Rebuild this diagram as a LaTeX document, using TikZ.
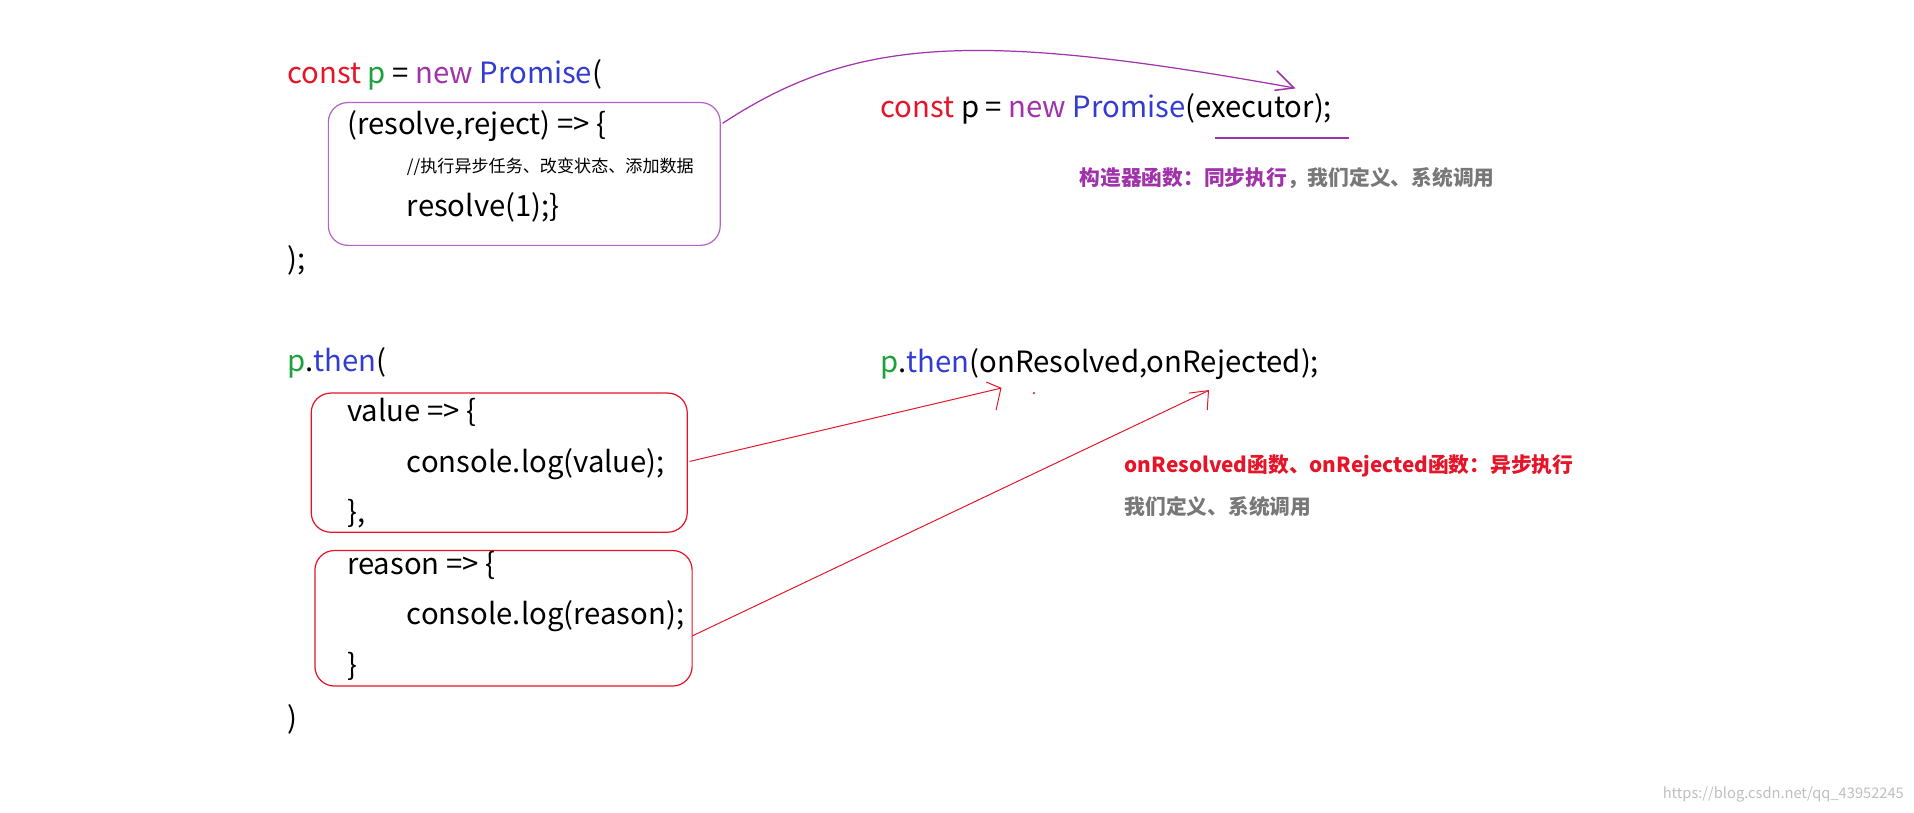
\documentclass[tikz,border=0pt]{standalone}
\usepackage{fontspec}
\setmainfont{Noto Sans CJK SC}
\usetikzlibrary{arrows.meta}
\definecolor{cred}{RGB}{230,20,40}
\definecolor{cgreen}{RGB}{30,160,60}
\definecolor{cpurple}{RGB}{160,50,170}
\definecolor{cblue}{RGB}{50,60,210}
\definecolor{cgray}{RGB}{120,120,120}
\definecolor{bpurple}{RGB}{180,100,200}
\begin{document}
\begin{tikzpicture}[x=0.5pt,y=-0.5pt,
  code/.style={anchor=west,inner sep=0pt,font=\fontsize{12}{14}\selectfont},
  note/.style={anchor=west,inner sep=0pt,font=\fontsize{8.5}{10}\selectfont\bfseries},
  pbox/.style={draw=bpurple,rounded corners=8pt,line width=0.5pt},
  rbox/.style={draw=cred,rounded corners=8pt,line width=0.5pt},
  rline/.style={draw=cred,line width=0.4pt}]
\useasboundingbox[fill=white] (0,0) rectangle (1568,666);
\node[code] (t1) at (235,61) {\textcolor{cred}{const} \textcolor{cgreen}{p} = \textcolor{cpurple}{new} \textcolor{cblue}{Promise}(};
\draw[pbox] (269,84) rectangle (590,201);
\node[code] (t2) at (284,103) {(resolve,reject) => \{};
\node[code,font=\fontsize{7}{8}\selectfont] (t3) at (333,137) {//执行异步任务、改变状态、添加数据};
\node[code] (t4) at (333,170) {resolve(1);\}};
\node[code] (t5) at (235,213) {);};
\node[code] (e1) at (721,89) {\textcolor{cred}{const} p = \textcolor{cpurple}{new} \textcolor{cblue}{Promise}(executor);};
\draw[cpurple,line width=0.5pt] (995,113) -- (1105,113);
\coordinate (pa) at (592,101);
\coordinate (pb) at (1060,72);
\draw[cpurple,line width=0.5pt] (pa) .. controls (700,30) and (800,25) .. (pb);
\draw[cpurple,line width=0.6pt] (1046,58) -- (pb) -- (1044,74);
\node[note] (n1) at (884,146) {\textcolor{cpurple}{构造器函数：同步执行}\textcolor{cgray}{，我们定义、系统调用}};
\node[code] (t6) at (235,297) {\textcolor{cgreen}{p}.\textcolor{cblue}{then}(};
\node[code] (e2) at (721,298) {\textcolor{cgreen}{p}.\textcolor{cblue}{then}(onResolved,onRejected);};
\draw[rbox] (255,322) rectangle (563,436);
\node[code] (v1) at (284,338) {value => \{};
\node[code] (v2) at (333,380) {console.log(value);};
\node[code] (v3) at (284,421) {\},};
\draw[rbox] (258,451) rectangle (567,562);
\node[code] (r1) at (284,463) {reason => \{};
\node[code] (r2) at (333,505) {console.log(reason);};
\node[code] (r3) at (284,546) {\}};
\node[code] (t7) at (235,589) {)};
\coordinate (a1) at (565,378);
\coordinate (a2) at (820,318);
\coordinate (b1) at (567,521);
\coordinate (b2) at (990,320);
\draw[rline] (a1) -- (a2);
\draw[rline] (808,313) -- (a2) -- (816,336);
\draw[rline] (b1) -- (b2);
\draw[rline] (974,322) -- (b2) -- (989,336);
\fill[cred] (847,322) circle (1);
\node[note,text=cred] (n2) at (921,382) {onResolved函数、onRejected函数：异步执行};
\node[note,text=cgray] (n3) at (921,415) {我们定义、系统调用};
\node[anchor=east,inner sep=0pt,text=black!25,font=\fontsize{6}{7}\selectfont] (wm) at (1560,651) {https://blog.csdn.net/qq\_43952245};
\end{tikzpicture}
\end{document}
